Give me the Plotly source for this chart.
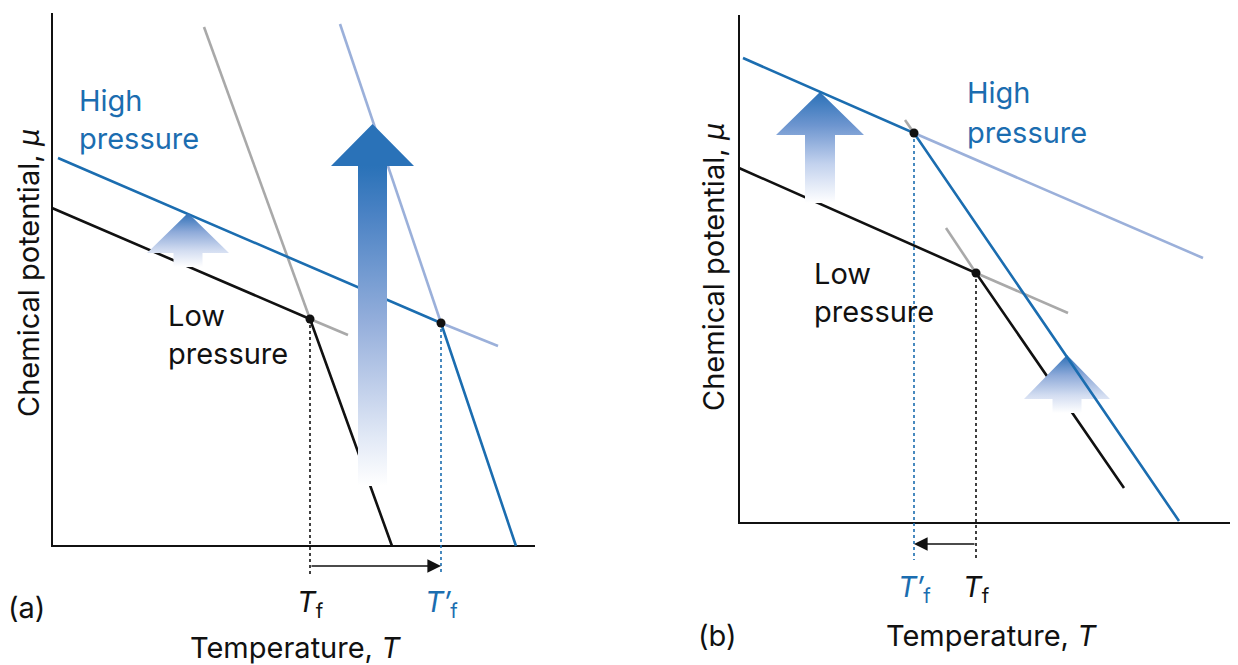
import plotly.graph_objects as go

# ---------------- Panel (a) : T / mu in arbitrary units (origin = axis corner)
a_axis_T = [0, 0, 483]
a_axis_mu = [533, 0, 0]

a_low_T = [0, 258, 340]            # low pressure: solid (shallow) -> liquid (steep)
a_low_mu = [338, 227, 0]
a_low_steep_ext_T = [152, 258]
a_low_steep_ext_mu = [519, 227]
a_low_shallow_ext_T = [258, 296]
a_low_shallow_ext_mu = [227, 211]

a_high_T = [6, 389, 464]           # high pressure
a_high_mu = [388, 223, 0]
a_high_steep_ext_T = [288, 389]
a_high_steep_ext_mu = [522, 223]
a_high_shallow_ext_T = [389, 446]
a_high_shallow_ext_mu = [223, 200]

a_Tf = 258
a_Tf_prime = 389
a_drop_mu = -29
a_shift_mu = -20

# arrows: centre T, tip mu, head-base mu, bottom mu, head half-width, shaft half-width
a_arrow_small = [136, 333, 293, 279, 41, 14.5]
a_arrow_big = [320.5, 422, 380, 60, 41.5, 14.5]

# ---------------- Panel (b)
b_axis_T = [0, 0, 493]
b_axis_mu = [508, 0, 0]

b_low_T = [0, 237, 385]
b_low_mu = [355, 250, 35]
b_low_steep_ext_T = [207, 237]
b_low_steep_ext_mu = [295, 250]
b_low_shallow_ext_T = [237, 329]
b_low_shallow_ext_mu = [250, 210]

b_high_T = [4, 175, 440]
b_high_mu = [465, 390, 2]
b_high_steep_ext_T = [166, 175]
b_high_steep_ext_mu = [403, 390]
b_high_shallow_ext_T = [175, 464]
b_high_shallow_ext_mu = [390, 265]

b_Tf = 237
b_Tf_prime = 175
b_drop_mu = -37
b_shift_mu = -21

b_arrow_big = [81, 431, 388, 320, 44, 15]
b_arrow_small = [328, 168, 124, 110, 43, 14.5]

# ---------------- styles
BLUE = "#1b6db0"
PALE_BLUE = "#9bb0da"
GREY = "#a9a9a9"
BLACK = "#111111"
FONT = "Inter, DejaVu Sans, Arial, sans-serif"
FS = 29

fig = go.Figure()


def line(x, y, color, width=2.6, xa="x", ya="y", dash=None):
    fig.add_trace(go.Scatter(x=x, y=y, mode="lines", xaxis=xa, yaxis=ya,
                             line=dict(color=color, width=width, dash=dash),
                             hoverinfo="skip", showlegend=False))


def dots(x, y, xa="x", ya="y"):
    fig.add_trace(go.Scatter(x=x, y=y, mode="markers", xaxis=xa, yaxis=ya,
                             marker=dict(color=BLACK, size=9),
                             hoverinfo="skip", showlegend=False))


def arrow(spec, scale, stop_at_tip, xa="x", ya="y"):
    cx, tip, base, bottom, hw, sw = spec
    xs = [cx - sw, cx - sw, cx - hw, cx, cx + hw, cx + sw, cx + sw, cx - sw]
    ys = [bottom, base, base, tip, base, base, bottom, bottom]
    fig.add_trace(go.Scatter(
        x=xs, y=ys, mode="lines", fill="toself", xaxis=xa, yaxis=ya,
        line=dict(color="rgba(0,0,0,0)", width=0),
        fillgradient=dict(type="vertical", colorscale=scale,
                          start=bottom, stop=tip if stop_at_tip else base),
        hoverinfo="skip", showlegend=False))


SCALE_SMALL = [[0, "#ffffff"], [0.3, "#d3ddf1"], [0.65, "#8eaad9"], [1, "#2d6fb7"]]
SCALE_BIG_A = [[0, "#ffffff"], [0.15, "#e2e9f6"], [0.5, "#97b0dc"], [0.85, "#4a82c4"], [1, "#2a72b8"]]
SCALE_BIG_B = [[0, "#ffffff"], [0.35, "#c3d2ee"], [0.7, "#6d95cf"], [1, "#2a71b8"]]

# ---- panel (a)
line(a_axis_T, a_axis_mu, BLACK, 2)
line(a_low_steep_ext_T, a_low_steep_ext_mu, GREY)
line(a_low_shallow_ext_T, a_low_shallow_ext_mu, GREY)
line(a_high_steep_ext_T, a_high_steep_ext_mu, PALE_BLUE)
line(a_high_shallow_ext_T, a_high_shallow_ext_mu, PALE_BLUE)
line(a_low_T, a_low_mu, BLACK)
line(a_high_T, a_high_mu, BLUE)
line([a_Tf, a_Tf], [a_low_mu[1], a_drop_mu], BLACK, 1.6, dash="dot")
line([a_Tf_prime, a_Tf_prime], [a_high_mu[1], a_drop_mu], BLUE, 1.6, dash="dot")
dots([a_Tf, a_Tf_prime], [a_low_mu[1], a_high_mu[1]])
arrow(a_arrow_small, SCALE_SMALL, True)
arrow(a_arrow_big, SCALE_BIG_A, False)

# ---- panel (b)
line(b_axis_T, b_axis_mu, BLACK, 2, "x2", "y2")
line(b_low_steep_ext_T, b_low_steep_ext_mu, GREY, xa="x2", ya="y2")
line(b_low_shallow_ext_T, b_low_shallow_ext_mu, GREY, xa="x2", ya="y2")
line(b_low_T, b_low_mu, BLACK, xa="x2", ya="y2")
arrow(b_arrow_big, SCALE_BIG_B, True, "x2", "y2")
arrow(b_arrow_small, SCALE_SMALL, True, "x2", "y2")
line(b_high_steep_ext_T, b_high_steep_ext_mu, GREY, xa="x2", ya="y2")
line(b_high_shallow_ext_T, b_high_shallow_ext_mu, PALE_BLUE, xa="x2", ya="y2")
line(b_high_T, b_high_mu, BLUE, xa="x2", ya="y2")
line([b_Tf, b_Tf], [b_low_mu[1], b_drop_mu], BLACK, 1.6, "x2", "y2", dash="dot")
line([b_Tf_prime, b_Tf_prime], [b_high_mu[1], b_drop_mu], BLUE, 1.6, "x2", "y2", dash="dot")
dots([b_Tf, b_Tf_prime], [b_low_mu[1], b_high_mu[1]], "x2", "y2")

# ---- text
def text(t, x, y, xa, ya, color=BLACK, size=FS, xanchor="left", angle=0):
    fig.add_annotation(text=t, x=x, y=y, xref=xa, yref=ya, showarrow=False,
                       xanchor=xanchor, yanchor="middle", textangle=angle,
                       font=dict(family=FONT, size=size, color=color))


# panel (a) labels
text("High", 25, 446, "x", "y", BLUE)
text("pressure", 25, 408, "x", "y", BLUE)
text("Low", 114, 231, "x", "y")
text("pressure", 114, 193, "x", "y")
text("<i>T</i><sub>f</sub>", a_Tf, -57, "x", "y", xanchor="center")
text("<i>T′</i><sub>f</sub>", a_Tf_prime, -57, "x", "y", BLUE, xanchor="center")
text("(a)", -26, -61, "x", "y", xanchor="center")
text("Temperature, <i>T</i>", 243, -101, "x", "y", xanchor="center")
text("Chemical potential, <i>μ</i>", -24, 273, "x", "y", xanchor="center", angle=-90)

# panel (b) labels
text("High", 226, 431, "x2", "y2", BLUE)
text("pressure", 226, 391, "x2", "y2", BLUE)
text("Low", 73, 250, "x2", "y2")
text("pressure", 73, 212, "x2", "y2")
text("<i>T′</i><sub>f</sub>", b_Tf_prime, -65, "x2", "y2", BLUE, xanchor="center")
text("<i>T</i><sub>f</sub>", b_Tf, -65, "x2", "y2", xanchor="center")
text("(b)", -22, -112, "x2", "y2", xanchor="center")
text("Temperature, <i>T</i>", 252, -112, "x2", "y2", xanchor="center")
text("Chemical potential, <i>μ</i>", -26, 256, "x2", "y2", xanchor="center", angle=-90)

# shift arrows below the axes
for (head, tail, mu, xa, ya) in [(a_Tf_prime, a_Tf, a_shift_mu, "x", "y"),
                                 (b_Tf_prime, b_Tf, b_shift_mu, "x2", "y2")]:
    fig.add_annotation(x=head, y=mu, ax=tail, ay=mu, xref=xa, yref=ya,
                       axref=xa, ayref=ya, text="", showarrow=True,
                       arrowhead=2, arrowsize=1.6, arrowwidth=1.7,
                       arrowcolor=BLACK, standoff=0, startstandoff=0)

# page has an 8 px body margin: the figure is 1230x657 placed at (8, 8)
W, H = 1230, 657
split = 611 / W
fig.update_layout(
    width=W, height=H,
    margin=dict(l=0, r=0, t=0, b=0),
    paper_bgcolor="white", plot_bgcolor="rgba(0,0,0,0)",
    showlegend=False,
    xaxis=dict(domain=[0, split], range=[-44, 567], visible=False, fixedrange=True),
    yaxis=dict(domain=[0, 1], range=[-119, 538], visible=False, fixedrange=True),
    xaxis2=dict(domain=[split, 1], range=[-120, 499], visible=False, anchor="y2", fixedrange=True),
    yaxis2=dict(domain=[0, 1], range=[-142, 515], visible=False, anchor="x2", fixedrange=True),
)

fig.write_html("out.html")
